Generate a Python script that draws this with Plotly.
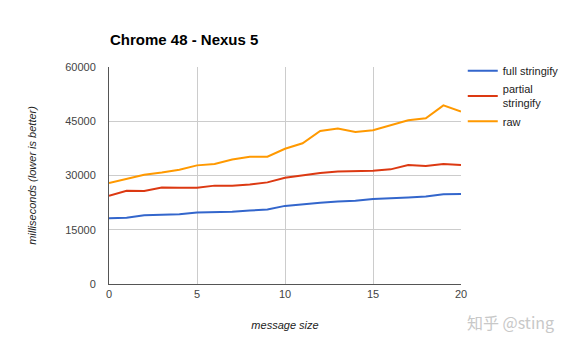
import plotly.graph_objects as go

x_vals = list(range(21))
full_stringify = [18200, 18300, 19000, 19200, 19300, 19800, 19800, 20000, 20300, 20600,
                  21600, 22100, 22500, 22800, 23000, 23500, 23600, 23900, 24200, 24800, 24900]
partial_stringify = [24400, 25800, 25700, 26700, 26600, 26600, 27200, 27200, 27500, 28100,
                     29400, 30100, 30700, 31100, 31100, 31300, 31700, 32900, 32600, 33200, 32900]
raw = [27900, 29100, 30200, 30800, 31600, 32800, 33200, 34400, 35200, 35200,
       37400, 38900, 42300, 43000, 42000, 42500, 44000, 45300, 45800, 49400, 47700]

series_names = ["full stringify", "partial<br>stringify", "raw"]
series_colors = ["#3366cc", "#dc3912", "#ff9900"]
y_ticks = [0, 15000, 30000, 45000, 60000]
y_tick_labels = ["0", "15000", "30000", "45000", "60000"]
x_ticks = [0, 5, 10, 15, 20]
x_tick_labels = ["0", "5", "10", "15", "20"]

fig = go.Figure()
for name, vals, col in zip(series_names, [full_stringify, partial_stringify, raw], series_colors):
    fig.add_trace(go.Scatter(x=x_vals, y=vals, mode="lines", name=name,
                             line=dict(color=col, width=2)))

font_family = "Liberation Sans, Arial, sans-serif"
fig.update_layout(
    width=570, height=351,
    margin=dict(l=109, r=109, t=67, b=67, autoexpand=False),
    paper_bgcolor="white", plot_bgcolor="white",
    font=dict(family=font_family, size=11, color="#444"),
    title=dict(text="<b>Chrome 48 - Nexus 5</b>", x=110/570, xanchor="left",
               y=1 - 40/351, yanchor="middle",
               font=dict(size=15, color="#000", family=font_family)),
    showlegend=True,
    legend=dict(x=1.005, xanchor="left", y=1.05, yanchor="top",
                font=dict(size=11, color="#222"), tracegroupgap=0,
                bgcolor="rgba(0,0,0,0)", itemwidth=30),
    xaxis=dict(range=[0, 20], tickvals=x_ticks, ticktext=x_tick_labels,
               showgrid=True, gridcolor="#cccccc",
               zeroline=False, showline=True, linecolor="#555", linewidth=1,
               ticks="", ticklen=0,
               title=dict(text="<i>message size</i>", font=dict(size=11, color="#222"), standoff=22)),
    yaxis=dict(range=[0, 60000], tickvals=y_ticks, ticktext=y_tick_labels,
               showgrid=True, gridcolor="#cccccc",
               zeroline=False, showline=True, linecolor="#555", linewidth=1,
               ticks="", ticklen=0, ticklabelstandoff=10,
               title=dict(text="<i>milliseconds (lower is better)</i>",
                          font=dict(size=11, color="#222"), standoff=26)),
)

fig.add_annotation(text="知乎 @sting", xref="paper", yref="paper",
                   x=(510 - 109) / 352, y=(284 - 322) / 217, xanchor="center", yanchor="middle",
                   showarrow=False,
                   font=dict(size=16, color="#c8c8c8", family="Noto Sans CJK SC, sans-serif"))

fig.write_html("out.html")
